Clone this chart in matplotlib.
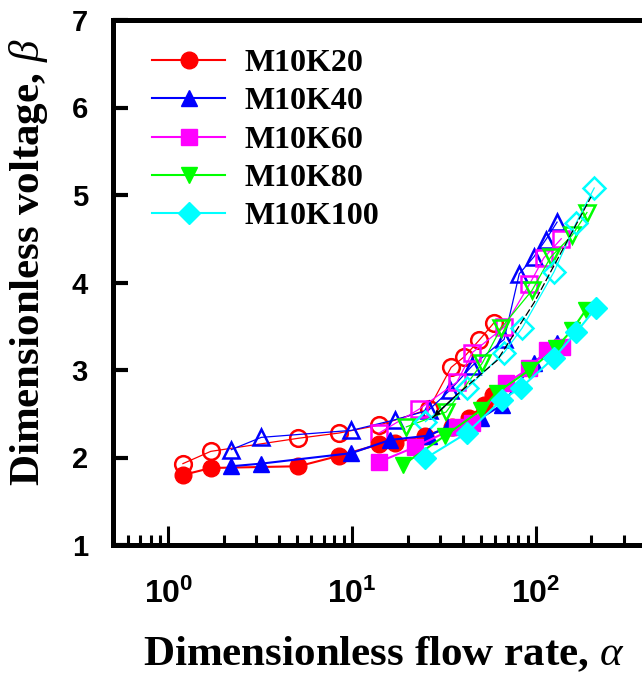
import matplotlib
matplotlib.use("Agg")
import matplotlib.pyplot as plt

plt.rcParams['mathtext.fontset'] = 'custom'
plt.rcParams['mathtext.bf'] = 'Liberation Sans:bold'
plt.rcParams['mathtext.rm'] = 'Liberation Sans'
plt.rcParams['mathtext.it'] = 'Liberation Serif:italic'

# ---- data ----
series_names = ["M10K20", "M10K40", "M10K60", "M10K80", "M10K100"]
series_colors = ["#ff0000", "#0000ff", "#ff00ff", "#00ff00", "#00ffff"]
series_markers = ["o", "^", "s", "v", "D"]

# filled markers
k20_x = [1.2, 1.7, 5.1, 8.5, 14, 17, 25, 35, 43, 52, 58]
k20_y = [1.80, 1.88, 1.90, 2.02, 2.15, 2.17, 2.25, 2.35, 2.45, 2.60, 2.72]
k40_x = [2.2, 3.2, 9.9, 16, 26, 33, 50, 65, 97, 130]
k40_y = [1.90, 1.93, 2.05, 2.20, 2.25, 2.35, 2.45, 2.60, 3.08, 3.31]
k60_x = [14, 22, 37, 45, 69, 92, 115, 138]
k60_y = [1.95, 2.12, 2.35, 2.40, 2.85, 3.02, 3.23, 3.26]
k80_x = [19, 32, 50, 61, 92, 128, 157, 187]
k80_y = [1.92, 2.25, 2.54, 2.74, 3.00, 3.25, 3.46, 3.69]
k100_x = [25, 42, 65, 83, 125, 165, 212]
k100_y = [1.99, 2.28, 2.66, 2.80, 3.14, 3.43, 3.71]

# open markers
k20o_x = [1.2, 1.7, 5.1, 8.5, 14, 26, 34.5, 40.6, 49, 59]
k20o_y = [1.93, 2.07, 2.22, 2.28, 2.37, 2.55, 3.03, 3.15, 3.34, 3.54]
k40o_x = [2.2, 3.2, 9.9, 17, 26, 34, 45, 67, 81, 97, 113, 130]
k40o_y = [2.09, 2.23, 2.31, 2.43, 2.54, 2.77, 3.05, 3.35, 4.10, 4.29, 4.49, 4.69]
k60o_x = [14, 23, 37, 45, 67, 92, 110, 137]
k60o_y = [2.28, 2.55, 2.86, 3.20, 3.49, 3.98, 4.28, 4.50]
k80o_x = [19.7, 32.4, 51, 64.5, 95, 120, 157, 189]
k80o_y = [2.35, 2.52, 3.08, 3.48, 3.91, 4.29, 4.54, 4.80]
k100o_x = [25, 42, 67, 84, 125, 165, 207]
k100o_y = [2.41, 2.79, 3.20, 3.48, 4.12, 4.68, 5.08]

# thin black guide line with arrow
guide_x = [27.2, 36.7, 61.4, 97.5, 199]
guide_y = [2.45, 2.71, 3.11, 3.77, 4.98]

x_ticks = [1, 10, 100]
x_tick_labels = [r'$\mathbf{10^{0}}$', r'$\mathbf{10^{1}}$', r'$\mathbf{10^{2}}$']
y_ticks = [1, 2, 3, 4, 5, 6, 7]

filled = [(k20_x, k20_y), (k40_x, k40_y), (k60_x, k60_y), (k80_x, k80_y), (k100_x, k100_y)]
opened = [(k20o_x, k20o_y), (k40o_x, k40o_y), (k60o_x, k60o_y), (k80o_x, k80o_y), (k100o_x, k100o_y)]

fig = plt.figure(figsize=(6.42, 6.82), dpi=100)
ax = fig.add_axes([113/642, 1-545/682, 607/642, 525/682])

msizes = [12, 12, 11, 12, 11]
for (xs, ys), c, m, ms in zip(opened, series_colors, series_markers, msizes):
    ax.plot(xs, ys, color=c, lw=0.9, marker=m, ms=ms, mfc='none', mec=c, mew=1.8,
            zorder=2)
for (xs, ys), c, m, ms, name in zip(filled, series_colors, series_markers, msizes, series_names):
    ax.plot(xs, ys, color=c, lw=1.5, marker=m, ms=ms, mfc=c, mec=c, mew=1,
            zorder=3, label=name)

ax.plot(guide_x, guide_y, color='black', lw=0.9, ls=(0, (6, 2)), zorder=4)
ax.annotate('', xy=(guide_x[0], guide_y[0]), xytext=(guide_x[1], guide_y[1]),
            arrowprops=dict(arrowstyle='-|>', color='black', lw=0.9,
                            mutation_scale=8), zorder=4)

ax.set_xscale('log')
ax.set_xlim(0.5, 1000)
ax.set_ylim(1, 7)
ax.set_xticks(x_ticks)
ax.set_xticklabels(x_tick_labels)
ax.set_yticks(y_ticks)
ax.set_yticklabels([str(v) for v in y_ticks], fontfamily='Liberation Sans',
                   fontweight='bold')

for sp in ['left', 'bottom', 'top']:
    ax.spines[sp].set_linewidth(3.6)
ax.spines['right'].set_visible(False)

ax.tick_params(axis='x', which='major', direction='in', length=14, width=2.2,
               labelsize=23, pad=24, top=False)
ax.tick_params(axis='x', which='minor', direction='in', length=7, width=2.2,
               top=False)
ax.tick_params(axis='y', which='major', direction='in', length=11, width=3,
               labelsize=21, pad=18, right=False)
ax.tick_params(axis='y', which='minor', left=False, right=False)

ax.set_xlabel(r'Dimensionless flow rate, $\alpha$', fontfamily='Liberation Serif',
              fontweight='bold', fontsize=31)
ax.xaxis.set_label_coords((384 - 113) / 607, -(635 - 545) / 525)
ax.set_ylabel(r'Dimensionless voltage, $\beta$', fontfamily='Liberation Serif',
              fontweight='bold', fontsize=31)
ax.yaxis.set_label_coords(-(113 - 50) / 607, (545 - 262) / 525)

leg = ax.legend(loc='upper left', bbox_to_anchor=(26 / 607, 1 - 16 / 525),
                frameon=False, prop={'family': 'Liberation Serif', 'weight': 'bold', 'size': 23},
                handlelength=2.3, handletextpad=0.6, labelspacing=0.28,
                borderaxespad=0)

fig.savefig('out.png', dpi=100)
